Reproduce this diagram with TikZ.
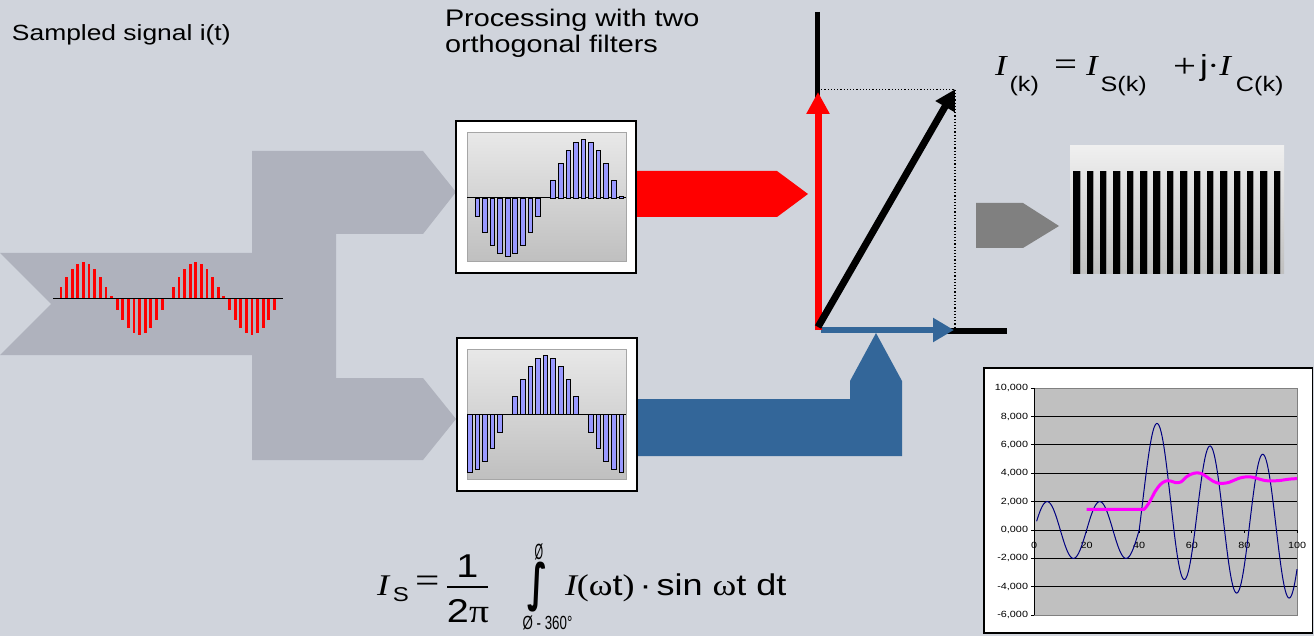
\documentclass[tikz,border=0pt]{standalone}
\usepackage{fontspec}
\usepackage{graphicx}
\setmainfont{Liberation Sans}[FakeStretch=1.2]
\newfontfamily\nsans{Liberation Sans}
\newfontfamily\tms{Liberation Serif}[FakeStretch=1.2]
\newfontfamily\djv{DejaVu Sans}
\usetikzlibrary{arrows.meta}
\definecolor{bg}{RGB}{208,212,220}
\definecolor{flow}{RGB}{175,178,189}
\definecolor{sigred}{RGB}{255,0,0}
\definecolor{barblue}{RGB}{153,153,255}
\definecolor{steel}{RGB}{51,102,153}
\definecolor{dgray}{RGB}{128,128,128}
\definecolor{plotgray}{RGB}{192,192,192}
\definecolor{navyline}{RGB}{0,0,128}
\definecolor{mag}{RGB}{255,0,255}
\newcommand\fs[1]{\fontsize{#1}{#1}\selectfont}
\newcommand\sbs[1]{\raisebox{-15.7pt}{\fs{21}#1}}
\begin{document}
\begin{tikzpicture}[x=1pt,y=-1pt,
  lbl/.style={inner sep=0pt, outer sep=0pt},
  fbar/.style={fill=barblue, draw=black, line width=0.8pt},
  plotbox/.style={top color=gray!18, bottom color=gray!50, draw=gray!70, line width=1pt},
  framebox/.style={fill=white, draw=black, line width=1.5pt},
  vec/.style={line width=7pt, -{Triangle[length=22pt,width=22pt]}}]
\useasboundingbox (0,0) rectangle (1314,636);
\fill[bg] (0,0) rectangle (1314,636);

% grey flow shape
\fill[flow] (0,253) -- (252,253) -- (252,151) -- (423,151) -- (456,192) -- (423,234)
  -- (336,234) -- (336,378) -- (423,378) -- (456,419) -- (423,460) -- (252,460)
  -- (252,355) -- (0,355) -- (51,304) -- cycle;

% sampled signal
\foreach \k in {1,...,39}{
  \pgfmathsetmacro\xx{61+(\k-1)*5.617}
  \pgfmathsetmacro\hh{36.3*sin(18*\k)+(((\k==10)||(\k==30))?2:0)}
  \fill[sigred] (\xx-1.4,298.3) rectangle (\xx+1.4,298.3-\hh);
}
\draw[line width=1.5pt] (53,298.3) -- (283,298.3);

% texts
\node[lbl, anchor=base west, font=\fs{22}] (title) at (12,41) {Sampled signal i(t)};
\node[lbl, anchor=north west, align=left, font=\fontsize{24}{26}\selectfont] (proc) at (445,9) {Processing with two\\orthogonal filters};

% output arrows
\fill[sigred] (630,171) -- (777,171) -- (808,194) -- (777,217) -- (630,217) -- cycle;
\fill[steel] (630,399) -- (850,399) -- (850,381) -- (876,333) -- (902,381) -- (902,456) -- (630,456) -- cycle;

% upper filter box
\draw[framebox] (456,121) rectangle (636,273);
\shade[plotbox] (467,133) rectangle (626,262);
\draw[line width=1pt] (467,198) -- (626,198);
\foreach \k in {1,...,20}{
  \pgfmathsetmacro\xx{469.7+7.58*\k}
  \pgfmathsetmacro\hh{-58.3*sin(18*\k)+((\k==20)?1.5:0)}
  \pgfmathtruncatemacro\shw{abs(\hh)>0.5}
  \ifnum\shw=1 \draw[fbar] (\xx-2.3,198) rectangle (\xx+2.3,198-\hh);\fi
}

% lower filter box
\draw[framebox] (457,338) rectangle (637,491);
\shade[plotbox] (467,349) rectangle (626,479);
\draw[line width=1pt] (467,414) -- (626,414);
\foreach \k in {0,...,20}{
  \pgfmathsetmacro\xx{469.7+7.58*\k}
  \pgfmathsetmacro\hh{-58.3*cos(18*\k)}
  \pgfmathtruncatemacro\shw{abs(\hh)>0.5}
  \ifnum\shw=1 \draw[fbar] (\xx-2.3,414) rectangle (\xx+2.3,414-\hh);\fi
}

% vector diagram
\coordinate (O) at (818,330);
\coordinate (ytop) at (817.7,12);
\coordinate (ymid) at (817.7,110);
\coordinate (xend) at (1007,331);
\coordinate (xmid) at (935,331);
\coordinate (S) at (818,92);
\coordinate (C) at (954,330);
\coordinate (P) at (955,89.3);
\coordinate (Ptop) at (818,89.3);
\coordinate (Pbot) at (955,331);
\coordinate (Ostart) at (818,327);
\draw[line width=5.5pt] (ytop) -- (ymid);
\draw[line width=6pt] (xmid) -- (xend);
\draw[dotted, line width=1.2pt] (Ptop) -- (P) -- (Pbot);
\draw[steel, line width=6.5pt, -{Triangle[length=21pt,width=23pt]}] ([xshift=3pt]O) -- (C);
\draw[sigred, vec] (O) -- (S);
\draw[black, vec, -{Triangle[length=20pt,width=21pt]}] (Ostart) -- (P);

% formula I(k)
\node[lbl, anchor=base west, font=\fs{29}] (ik) at (995,76) {{\tms\itshape I}\hspace{3pt}\sbs{(k)}};
\node[lbl, anchor=base west, font=\tms\fs{34}] (eqa) at (1054,76) {=};
\node[lbl, anchor=base west, font=\fs{29}] (iks) at (1086,76) {{\tms\itshape I}\hspace{3pt}\sbs{S(k)}};
\node[lbl, anchor=base west, font=\tms\fs{34}] (plus) at (1173,78) {+};
\node[lbl, anchor=base west, font=\fs{29}] (ikc) at (1200,76) {j{\tms·}{\tms\itshape I}\hspace{5pt}\sbs{C(k)}};

% grey arrow and bar image
\fill[dgray] (976,203) -- (1023,203) -- (1059,226) -- (1023,248) -- (976,248) -- cycle;
\shade[top color=gray!12, bottom color=gray!50] (1070,146) rectangle (1284,274);
\foreach \i in {0,...,15}{
  \fill[gray!80] (1073.3+13.36*\i+6.4,171) rectangle +(0.9,103);
  \fill[black] (1073.3+13.36*\i,171) rectangle +(6.4,103);
}

% formula I_S
\node[lbl, anchor=base west, font=\fs{30}] (lhs) at (377,595) {{\tms\itshape I}\hspace{4pt}\raisebox{-6.7pt}{\fs{20}S}};
\node[lbl, anchor=base west, font=\tms\fs{36}] (eqb) at (415,592.5) {=};
\node[lbl, anchor=base, font=\fs{33}] (num) at (467.5,577) {1};
\node[lbl, anchor=base, font=\fs{33}] (den) at (468,622) {2{\tms π}};
\draw[line width=1.5pt] (447,587) -- (488,587);
\node[lbl, font=\fs{30}] (int) at (537.5,587) {\scalebox{1.1}[1.7]{\djv\bfseries ∫}};
\node[lbl, anchor=base, font=\fs{22}] (ulim) at (539,559.5) {\scalebox{0.5}[1]{\nsans Ø}};
\node[lbl, anchor=base, font=\fs{19}] (llim) at (547.5,629) {\scalebox{0.7}[1]{\nsans Ø - 360°}};
\node[lbl, anchor=base west, font=\fs{30}] (integrand) at (565,595) {{\tms\itshape I}{\tms(ω}t{\tms)}\,·\,sin {\tms ω}t dt};

% chart
\draw[fill=white, draw=black, line width=1.2pt] (984,368) rectangle (1312.5,633);
\begin{scope}[shift={(1034,530)}, x=2.63pt, y=0.0141875pt]
  \draw[fill=plotgray, draw=gray, line width=0.8pt] (0,-6000) rectangle (100,10000);
  \foreach \v in {-4000,-2000,2000,4000,6000,8000}
    \draw[line width=0.8pt] (0,\v) -- (100,\v);
  \draw[line width=0.8pt] (0,-6000) -- (0,10000);
  \draw[line width=0.8pt] (0,0) -- (100,0);
  \foreach \v in {-6000,-4000,...,10000}
    \draw[line width=0.8pt] (0,\v) -- ++(-3pt,0pt);
  \foreach \t in {0,20,...,100}
    \draw[line width=0.8pt] (\t,0) -- ++(0pt,-3pt);
  \foreach \v/\lab [count=\i] in {10000/{10,000},8000/{8,000},6000/{6,000},4000/{4,000},2000/{2,000},0/{0,000},-2000/{-2,000},-4000/{-4,000},-6000/{-6,000}}
    \node[lbl, anchor=east, font=\fs{9}] (yl\i) at ([xshift=-6pt]0,\v) {\lab};
  \foreach \t [count=\i] in {0,20,40,60,80,100}
    \node[lbl, anchor=center, font=\fs{9}] (xl\i) at ([yshift=-15pt]\t,0) {\t};
  \draw[navyline, line width=1pt] plot[domain=1:40, samples=157] (\x, {2000*sin(18*\x)});
  \draw[navyline, line width=1pt] plot[domain=40:100, samples=241] (\x, {5000*sin(18*(\x-42))+2500*exp(-(\x-47)/20)-609*exp(-(\x-40)/1.5)});
  \draw[mag, line width=3pt, line join=round] plot[smooth] coordinates {(20,1450) (40,1450) (42,1500) (44,2000) (46,2700) (48,3200) (50,3450) (52,3450) (54,3330) (56,3400) (58,3750) (60,3950) (62,4030) (64,3950) (66,3700) (68,3450) (70,3300) (72,3290) (74,3350) (76,3500) (78,3650) (80,3730) (82,3750) (84,3680) (86,3570) (88,3480) (90,3460) (92,3470) (94,3500) (96,3560) (98,3600) (100,3620)};
\end{scope}
\end{tikzpicture}
\end{document}
